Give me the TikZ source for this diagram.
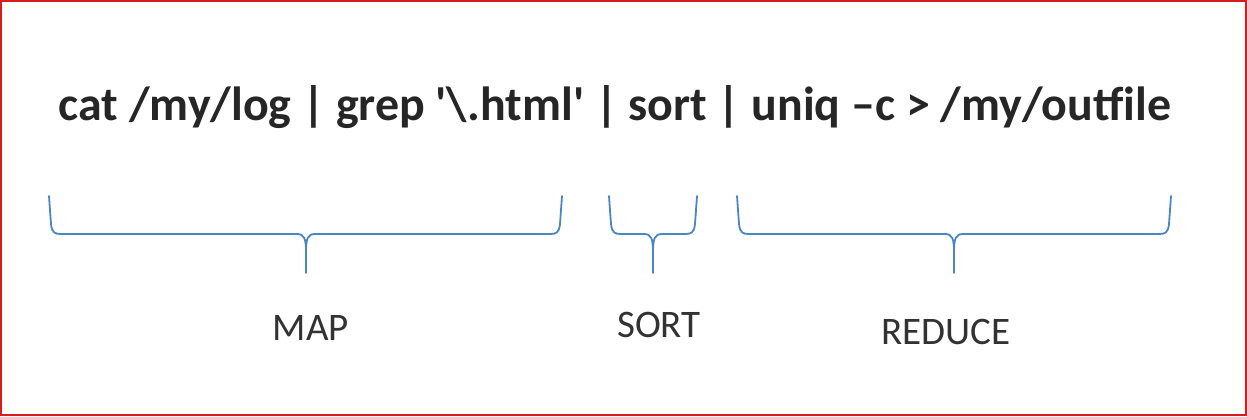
\documentclass[tikz,border=0pt]{standalone}
\usepackage{fontspec}
\setmainfont{Carlito}
\newfontfamily\cmdfont{Carlito}[Ligatures=TeXOff]
\definecolor{braceblue}{RGB}{74,134,192}
\definecolor{framered}{RGB}{214,28,28}
\definecolor{cmdgray}{RGB}{38,38,38}
\definecolor{labgray}{RGB}{50,50,50}
\newcommand\drawbrace[3]{%
  \draw[brace] (#1,196) -- (#1+2,224) .. controls (#1+3,233) and (#1+6,234) .. (#1+12,234)
    -- (#3-9,234) .. controls (#3-2,234) and (#3,238) .. (#3,252) -- (#3,273)
    -- (#3,252) .. controls (#3,238) and (#3+2,234) .. (#3+9,234)
    -- (#2-12,234) .. controls (#2-6,234) and (#2-3,233) .. (#2-2,224) -- (#2,196);}
\begin{document}
\begin{tikzpicture}[x=1pt,y=-1pt,
  brace/.style={draw=braceblue,line width=1.8pt,line join=round,line cap=round},
  cmd/.style={inner sep=0pt,text=cmdgray,font=\cmdfont\bfseries},
  lab/.style={inner sep=0pt,text=labgray,font=\fontsize{39}{44}\selectfont}]
\useasboundingbox (0,0) rectangle (1247,416);
\fill[white] (0,0) rectangle (1247,416);
\draw[framered,line width=2pt] (1,1) rectangle (1246,415);
\node[cmd,anchor=base] (cmdline) at (615,120)
  {\resizebox{1112pt}{!}{\fontsize{41}{48}\selectfont cat /my/log | grep '\textbackslash.html' | sort | uniq –c > /my/outfile}};
\drawbrace{49}{562}{306}
\drawbrace{609}{697}{653}
\drawbrace{737}{1171}{954}
\node[lab] (map) at (311,327.5) {MAP};
\node[lab] (sort) at (659,325) {SORT};
\node[lab] (reduce) at (946,331.5) {REDUCE};
\end{tikzpicture}
\end{document}
